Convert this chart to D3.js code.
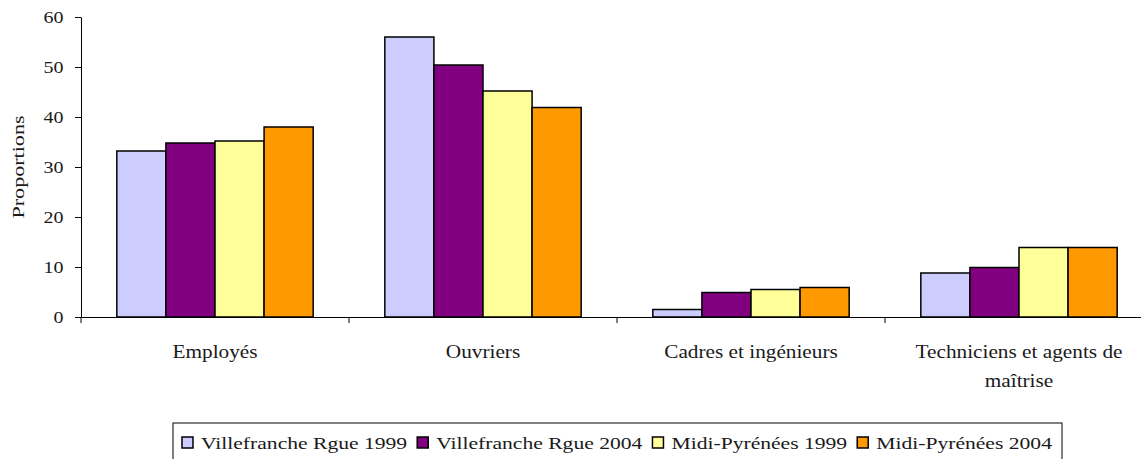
<!DOCTYPE html>
<html>
<head>
<meta charset="utf-8">
<script src="https://cdn.jsdelivr.net/npm/d3@7"></script>
<style>
  body { margin: 0; background: #fff; }
</style>
</head>
<body>
<script>
// chart data
var categories = ["Employés", "Ouvriers", "Cadres et ingénieurs", "Techniciens et agents de maîtrise"];
var categoryLines = [["Employés"], ["Ouvriers"], ["Cadres et ingénieurs"], ["Techniciens et agents de", "maîtrise"]];
var series = ["Villefranche Rgue 1999", "Villefranche Rgue 2004", "Midi-Pyrénées 1999", "Midi-Pyrénées 2004"];
var vf1999 = [33.2, 56, 1.5, 8.8];
var vf2004 = [34.8, 50.4, 4.9, 9.9];
var mp1999 = [35.2, 45.2, 5.5, 13.9];
var mp2004 = [38, 41.9, 5.9, 13.9];
var yTicks = [0, 10, 20, 30, 40, 50, 60];
var colors = ["#ccccff", "#800080", "#ffff99", "#ff9900"];

var values = [vf1999, vf2004, mp1999, mp2004];
var width = 1141, height = 459;
var font = "'Liberation Serif'";

var svg = d3.select("body").append("svg").attr("width", width).attr("height", height)
  .style("font-family", font);

var x = d3.scaleBand().domain(categories).range([81, 1153]).padding(0);
var xs = d3.scaleBand().domain(series).range([0, x.bandwidth()]).paddingInner(0).paddingOuter(0.73);
var y = d3.scaleLinear().domain([0, 60]).range([317, 17]);

// y axis
var yAxis = d3.axisLeft(y).tickValues(yTicks).tickSize(6).tickSizeOuter(0).tickPadding(8);
var yg = svg.append("g").attr("transform", "translate(81,0)").call(yAxis);
yg.attr("font-family", null).attr("font-size", null);
yg.selectAll("path, line").attr("stroke", "#000");
yg.selectAll("text").style("font-family", font).style("font-size", "16px").attr("fill", "#1a1a1a")
  .attr("transform", "scale(1.25,1)");

svg.append("text")
  .attr("transform", "translate(24,167) rotate(-90) scale(1.3,1)")
  .attr("text-anchor", "middle")
  .attr("fill", "#1a1a1a")
  .style("font-family", font)
  .style("font-size", "17px")
  .text("Proportions");

// bars
var groups = svg.append("g").selectAll("g")
  .data(categories)
  .enter().append("g")
  .attr("transform", function(d) { return "translate(" + x(d) + ",0)"; });

groups.selectAll("rect")
  .data(function(d, i) { return series.map(function(s, j) { return {s: s, v: values[j][i], j: j}; }); })
  .enter().append("rect")
  .attr("x", function(d) { return xs(d.s); })
  .attr("width", xs.bandwidth())
  .attr("y", function(d) { return y(d.v); })
  .attr("height", function(d) { return y(0) - y(d.v); })
  .attr("fill", function(d) { return colors[d.j]; })
  .attr("stroke", "#000")
  .attr("stroke-width", 1.5);

// x axis, ticks sit between the categories
var xAxis = d3.axisBottom(x).tickSize(0).tickSizeOuter(0).tickPadding(0).tickFormat("");
var xg = svg.append("g").attr("transform", "translate(0," + y(0) + ")").call(xAxis);
xg.select(".domain").attr("stroke", "#000");
xg.selectAll(".tick").remove();

svg.append("g").selectAll("line")
  .data(categories)
  .enter().append("line")
  .attr("x1", function(d) { return x(d); })
  .attr("x2", function(d) { return x(d); })
  .attr("y1", y(0))
  .attr("y2", y(0) + 6)
  .attr("stroke", "#000");

var labels = svg.append("g").selectAll("text")
  .data(categories)
  .enter().append("text")
  .attr("text-anchor", "middle")
  .attr("fill", "#1a1a1a")
  .style("font-family", font)
  .style("font-size", "19px")
  .attr("transform", function(d) { return "translate(" + (x(d) + x.bandwidth() / 2) + ",358) scale(1.12,1)"; });

labels.each(function(d, i) {
  d3.select(this).selectAll("tspan")
    .data(categoryLines[i])
    .enter().append("tspan")
    .attr("x", 0)
    .attr("dy", function(t, k) { return k === 0 ? 0 : 29; })
    .text(function(t) { return t; });
});

// legend
var legend = svg.append("g");
var legendBox = legend.append("rect").attr("fill", "none").attr("stroke", "#000").attr("stroke-width", 1);
var items = legend.selectAll("g.item")
  .data(series)
  .enter().append("g").attr("class", "item");

items.append("rect")
  .attr("width", 11).attr("height", 11).attr("y", 437)
  .attr("fill", function(d, i) { return colors[i]; })
  .attr("stroke", "#000").attr("stroke-width", 1.5);

items.append("text")
  .attr("fill", "#1a1a1a")
  .style("font-family", font)
  .style("font-size", "16px")
  .text(function(d) { return d; });

var legScale = 1.35;
var cursor = 0;
items.each(function() {
  var g = d3.select(this);
  var w = g.select("text").node().getComputedTextLength() * legScale;
  g.select("rect").attr("x", cursor);
  g.select("text").attr("transform", "translate(" + (cursor + 19) + ",449) scale(" + legScale + ",1)");
  cursor += 19 + w + 10;
});
var totalW = cursor - 10;
var legLeft = (81 + 1153) / 2 - totalW / 2;
legend.selectAll("g.item").attr("transform", "translate(" + legLeft + ",0)");
legendBox.attr("x", legLeft - 9).attr("y", 423).attr("width", totalW + 19).attr("height", 50);
</script>
</body>
</html>
